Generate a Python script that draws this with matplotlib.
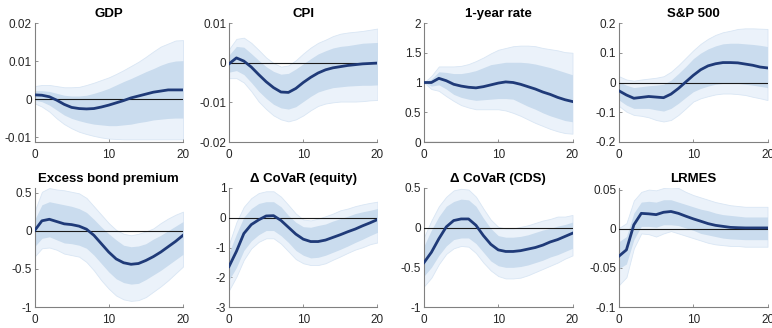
import matplotlib
matplotlib.use('Agg')
import matplotlib.pyplot as plt
import numpy as np

plt.rcParams['font.family'] = ['Liberation Sans', 'DejaVu Sans']
plt.rcParams['axes.unicode_minus'] = False

horizon = list(range(21))

titles = ['GDP', 'CPI', '1-year rate', 'S&P 500',
          'Excess bond premium', '\u0394 CoVaR (equity)', '\u0394 CoVaR (CDS)', 'LRMES']

# GDP
gdp_med = [0.0011, 0.001, 0.0006, -0.0003, -0.0014, -0.0022, -0.0025, -0.0026, -0.0025, -0.0021, -0.0016,
           -0.001, -0.0004, 0.0003, 0.0008, 0.0013, 0.0018, 0.0021, 0.0024, 0.0024, 0.0024]
gdp_hi68 = [0.0022, 0.0022, 0.002, 0.0015, 0.001, 0.0008, 0.0008, 0.001, 0.0015, 0.0021, 0.0028,
            0.0037, 0.0046, 0.0054, 0.0063, 0.0072, 0.008, 0.0089, 0.0096, 0.01, 0.0101]
gdp_lo68 = [-0.0003, -0.0007, -0.0016, -0.0029, -0.0042, -0.0051, -0.0057, -0.0062, -0.0066, -0.0068, -0.007,
            -0.007, -0.0068, -0.0066, -0.0062, -0.0059, -0.0055, -0.0053, -0.0051, -0.005, -0.005]
gdp_hi90 = [0.0034, 0.0037, 0.0037, 0.0034, 0.0031, 0.0031, 0.0032, 0.0037, 0.0043, 0.005, 0.0057,
            0.0066, 0.0076, 0.0087, 0.0098, 0.0111, 0.0125, 0.0138, 0.0146, 0.0154, 0.0155]
gdp_lo90 = [-0.0011, -0.002, -0.0033, -0.0051, -0.0066, -0.0077, -0.0086, -0.0092, -0.0097, -0.0101, -0.0104,
            -0.0105, -0.0106, -0.0106, -0.0106, -0.0106, -0.0106, -0.0106, -0.0106, -0.0106, -0.0106]

# CPI
cpi_med = [-0.0003, 0.0012, 0.0004, -0.0011, -0.003, -0.0048, -0.0063, -0.0074, -0.0075, -0.0065, -0.005,
           -0.0037, -0.0026, -0.0018, -0.0013, -0.001, -0.0007, -0.0005, -0.0003, -0.0002, -0.0001]
cpi_hi68 = [0.0019, 0.0041, 0.0039, 0.0023, 0.0006, -0.001, -0.0022, -0.0029, -0.0027, -0.0016, -0.0003,
            0.001, 0.0022, 0.003, 0.0037, 0.0041, 0.0043, 0.0046, 0.0049, 0.005, 0.0051]
cpi_lo68 = [-0.0024, -0.002, -0.003, -0.005, -0.0072, -0.009, -0.0105, -0.0114, -0.0117, -0.0111, -0.0098,
            -0.0085, -0.0074, -0.0068, -0.0063, -0.0061, -0.0059, -0.0058, -0.0057, -0.0057, -0.0056]
cpi_hi90 = [0.0034, 0.006, 0.0063, 0.005, 0.0032, 0.0013, -0.0001, -0.001, -0.0007, 0.0006, 0.0023,
            0.0038, 0.005, 0.0058, 0.0067, 0.0073, 0.0076, 0.0078, 0.008, 0.0083, 0.0086]
cpi_lo90 = [-0.0039, -0.0039, -0.005, -0.0072, -0.0098, -0.0117, -0.0133, -0.0143, -0.0148, -0.0143, -0.0133,
            -0.012, -0.0109, -0.0103, -0.01, -0.0098, -0.0098, -0.0098, -0.0097, -0.0095, -0.0094]

# 1-year rate
rate_med = [1.0, 1.0, 1.07, 1.03, 0.97, 0.94, 0.92, 0.91, 0.93, 0.96, 0.99,
            1.01, 1.0, 0.97, 0.93, 0.89, 0.84, 0.8, 0.75, 0.71, 0.68]
rate_hi68 = [1.0, 1.06, 1.18, 1.17, 1.15, 1.15, 1.17, 1.2, 1.25, 1.3, 1.32,
             1.34, 1.34, 1.34, 1.33, 1.31, 1.28, 1.25, 1.21, 1.17, 1.13]
rate_lo68 = [1.0, 0.94, 0.96, 0.89, 0.8, 0.75, 0.72, 0.7, 0.71, 0.72, 0.73,
             0.73, 0.72, 0.66, 0.6, 0.55, 0.49, 0.44, 0.4, 0.36, 0.34]
rate_hi90 = [1.0, 1.11, 1.27, 1.27, 1.27, 1.28, 1.31, 1.36, 1.42, 1.49, 1.55,
             1.58, 1.61, 1.62, 1.62, 1.61, 1.58, 1.56, 1.54, 1.51, 1.5]
rate_lo90 = [1.0, 0.89, 0.86, 0.77, 0.69, 0.62, 0.58, 0.55, 0.55, 0.55, 0.55,
             0.53, 0.49, 0.44, 0.38, 0.32, 0.27, 0.22, 0.18, 0.15, 0.14]

# S&P 500
sp_med = [-0.028, -0.042, -0.053, -0.05, -0.047, -0.049, -0.051, -0.039, -0.02, 0.002, 0.024,
          0.043, 0.056, 0.063, 0.067, 0.067, 0.066, 0.062, 0.058, 0.052, 0.049]
sp_hi68 = [0.002, -0.009, -0.017, -0.014, -0.011, -0.009, -0.006, 0.008, 0.03, 0.054, 0.08,
           0.099, 0.113, 0.123, 0.13, 0.132, 0.132, 0.13, 0.128, 0.125, 0.121]
sp_lo68 = [-0.059, -0.076, -0.087, -0.087, -0.087, -0.092, -0.096, -0.087, -0.07, -0.05, -0.031,
           -0.02, -0.012, -0.006, -0.003, -0.003, -0.003, -0.006, -0.009, -0.013, -0.017]
sp_hi90 = [0.021, 0.01, 0.006, 0.01, 0.013, 0.016, 0.021, 0.036, 0.058, 0.083, 0.108,
           0.13, 0.147, 0.16, 0.169, 0.174, 0.18, 0.182, 0.182, 0.181, 0.18]
sp_lo90 = [-0.079, -0.098, -0.109, -0.112, -0.117, -0.126, -0.131, -0.126, -0.109, -0.087, -0.064,
           -0.053, -0.046, -0.04, -0.037, -0.037, -0.039, -0.042, -0.048, -0.053, -0.059]

# Excess bond premium
ebp_med = [0.0, 0.13, 0.15, 0.12, 0.09, 0.08, 0.06, 0.02, -0.06, -0.17, -0.28,
           -0.37, -0.42, -0.44, -0.43, -0.39, -0.34, -0.28, -0.21, -0.14, -0.06]
ebp_hi68 = [0.14, 0.34, 0.38, 0.36, 0.34, 0.32, 0.29, 0.24, 0.15, 0.05, -0.04,
            -0.12, -0.19, -0.21, -0.2, -0.17, -0.11, -0.06, 0.0, 0.06, 0.12]
ebp_lo68 = [-0.21, -0.1, -0.08, -0.12, -0.16, -0.17, -0.19, -0.23, -0.32, -0.43, -0.54,
            -0.63, -0.68, -0.7, -0.69, -0.64, -0.58, -0.52, -0.45, -0.38, -0.31]
ebp_hi90 = [0.25, 0.51, 0.56, 0.54, 0.53, 0.51, 0.49, 0.43, 0.32, 0.21, 0.1,
            0.01, -0.04, -0.06, -0.04, -0.01, 0.03, 0.1, 0.16, 0.21, 0.25]
ebp_lo90 = [-0.34, -0.23, -0.22, -0.25, -0.3, -0.32, -0.34, -0.41, -0.52, -0.65, -0.76,
            -0.85, -0.9, -0.92, -0.91, -0.87, -0.8, -0.73, -0.65, -0.56, -0.47]

# Delta CoVaR (equity)
cve_med = [-1.64, -1.13, -0.53, -0.23, -0.07, 0.06, 0.07, -0.09, -0.32, -0.55, -0.72,
           -0.8, -0.8, -0.75, -0.66, -0.57, -0.47, -0.38, -0.27, -0.17, -0.06]
cve_hi68 = [-1.18, -0.55, 0.02, 0.31, 0.48, 0.54, 0.54, 0.37, 0.08, -0.15, -0.3,
            -0.32, -0.26, -0.21, -0.11, -0.03, 0.05, 0.14, 0.2, 0.25, 0.31]
cve_lo68 = [-2.1, -1.67, -1.1, -0.78, -0.57, -0.43, -0.43, -0.6, -0.83, -1.1, -1.26,
            -1.35, -1.33, -1.26, -1.16, -1.06, -0.95, -0.83, -0.72, -0.6, -0.49]
cve_hi90 = [-0.89, -0.15, 0.37, 0.66, 0.83, 0.89, 0.89, 0.71, 0.43, 0.14, -0.06,
            -0.09, -0.03, 0.05, 0.14, 0.25, 0.31, 0.39, 0.45, 0.5, 0.54]
cve_lo90 = [-2.44, -1.98, -1.41, -1.03, -0.81, -0.69, -0.69, -0.87, -1.13, -1.39, -1.53,
            -1.59, -1.59, -1.53, -1.41, -1.3, -1.18, -1.07, -0.99, -0.89, -0.83]

# Delta CoVaR (CDS)
cvc_med = [-0.44, -0.31, -0.14, 0.01, 0.09, 0.11, 0.11, 0.03, -0.1, -0.21, -0.28,
           -0.3, -0.3, -0.29, -0.27, -0.25, -0.22, -0.18, -0.15, -0.11, -0.07]
cvc_hi68 = [-0.23, -0.03, 0.14, 0.27, 0.33, 0.36, 0.35, 0.27, 0.12, -0.01, -0.1,
            -0.12, -0.12, -0.11, -0.09, -0.06, -0.03, -0.01, 0.02, 0.04, 0.07]
cvc_lo68 = [-0.61, -0.5, -0.35, -0.23, -0.15, -0.13, -0.13, -0.2, -0.31, -0.42, -0.48,
            -0.5, -0.5, -0.49, -0.47, -0.44, -0.41, -0.37, -0.34, -0.3, -0.26]
cvc_hi90 = [-0.12, 0.09, 0.27, 0.39, 0.47, 0.49, 0.48, 0.39, 0.24, 0.1, 0.01,
            -0.01, -0.01, 0.01, 0.03, 0.06, 0.09, 0.11, 0.14, 0.14, 0.16]
cvc_lo90 = [-0.74, -0.63, -0.46, -0.33, -0.26, -0.23, -0.24, -0.32, -0.44, -0.54, -0.61,
            -0.64, -0.64, -0.63, -0.6, -0.56, -0.52, -0.48, -0.44, -0.39, -0.35]

# LRMES
lrm_med = [-0.035, -0.027, 0.005, 0.0196, 0.019, 0.018, 0.021, 0.022, 0.0196, 0.016, 0.0126,
           0.0096, 0.0065, 0.0043, 0.003, 0.0017, 0.0013, 0.001, 0.001, 0.001, 0.001]
lrm_hi68 = [-0.0165, -0.01, 0.02, 0.034, 0.035, 0.034, 0.037, 0.037, 0.034, 0.031, 0.028,
            0.025, 0.023, 0.02, 0.018, 0.017, 0.016, 0.015, 0.015, 0.015, 0.015]
lrm_lo68 = [-0.051, -0.045, -0.014, 0.003, 0.003, 0.002, 0.005, 0.005, 0.004, 0.001, -0.002,
            -0.006, -0.008, -0.01, -0.012, -0.013, -0.0135, -0.014, -0.014, -0.014, -0.014]
lrm_hi90 = [0.001, 0.007, 0.036, 0.047, 0.05, 0.049, 0.052, 0.053, 0.052, 0.047, 0.043,
            0.04, 0.037, 0.034, 0.032, 0.03, 0.029, 0.028, 0.028, 0.028, 0.028]
lrm_lo90 = [-0.072, -0.062, -0.025, -0.006, -0.007, -0.01, -0.006, -0.003, -0.006, -0.009, -0.012,
            -0.015, -0.018, -0.02, -0.021, -0.022, -0.022, -0.023, -0.023, -0.023, -0.023]

yticks = [[-0.01, 0, 0.01, 0.02], [-0.02, -0.01, 0, 0.01], [0, 0.5, 1, 1.5, 2], [-0.2, -0.1, 0, 0.1, 0.2],
          [-1, -0.5, 0, 0.5], [-3, -2, -1, 0, 1], [-1, -0.5, 0, 0.5], [-0.1, -0.05, 0, 0.05]]
ylims = [(-0.0113, 0.02), (-0.02, 0.01), (0, 2), (-0.2, 0.2),
         (-1, 0.56), (-3, 1), (-1, 0.5), (-0.1, 0.052)]

panels = [
    (gdp_med, gdp_lo68, gdp_hi68, gdp_lo90, gdp_hi90),
    (cpi_med, cpi_lo68, cpi_hi68, cpi_lo90, cpi_hi90),
    (rate_med, rate_lo68, rate_hi68, rate_lo90, rate_hi90),
    (sp_med, sp_lo68, sp_hi68, sp_lo90, sp_hi90),
    (ebp_med, ebp_lo68, ebp_hi68, ebp_lo90, ebp_hi90),
    (cve_med, cve_lo68, cve_hi68, cve_lo90, cve_hi90),
    (cvc_med, cvc_lo68, cvc_hi68, cvc_lo90, cvc_hi90),
    (lrm_med, lrm_lo68, lrm_hi68, lrm_lo90, lrm_hi90),
]

W, H = 772, 328
fig = plt.figure(figsize=(W / 100, H / 100), dpi=100)

lefts = [34.5, 229, 424, 619]
tops = [23, 188]
aw, ah = 148.5, 119

for i, (med, lo68, hi68, lo90, hi90) in enumerate(panels):
    r, c = divmod(i, 4)
    ax = fig.add_axes([lefts[c] / W, (H - tops[r] - ah) / H, aw / W, ah / H])
    ax.fill_between(horizon, lo90, hi90, color='#ebf2fa', edgecolor='#d9e6f4', linewidth=0.6, zorder=1)
    ax.fill_between(horizon, lo68, hi68, color='#cadcee', linewidth=0, zorder=2)
    ax.axhline(0, color='#1a1a1a', linewidth=0.8, zorder=3)
    ax.plot(horizon, med, color='#1f3a78', linewidth=2.0, zorder=4)
    ax.set_xlim(0, 20)
    ax.set_ylim(*ylims[i])
    ax.set_xticks([0, 10, 20])
    ax.set_yticks(yticks[i])
    ax.set_yticklabels(['{:g}'.format(t) for t in yticks[i]])
    ax.set_title(titles[i], fontsize=9.5, fontweight='bold', pad=4)
    for s in ['top', 'right']:
        ax.spines[s].set_visible(False)
    for s in ['left', 'bottom']:
        ax.spines[s].set_color('#808080')
        ax.spines[s].set_linewidth(0.8)
    ax.tick_params(direction='in', length=2.5, width=0.6, color='#808080',
                   labelsize=8.5, labelcolor='#262626')
    ax.tick_params(axis='x', pad=5)
    ax.tick_params(axis='y', pad=2)

fig.savefig('out.png', dpi=100)
